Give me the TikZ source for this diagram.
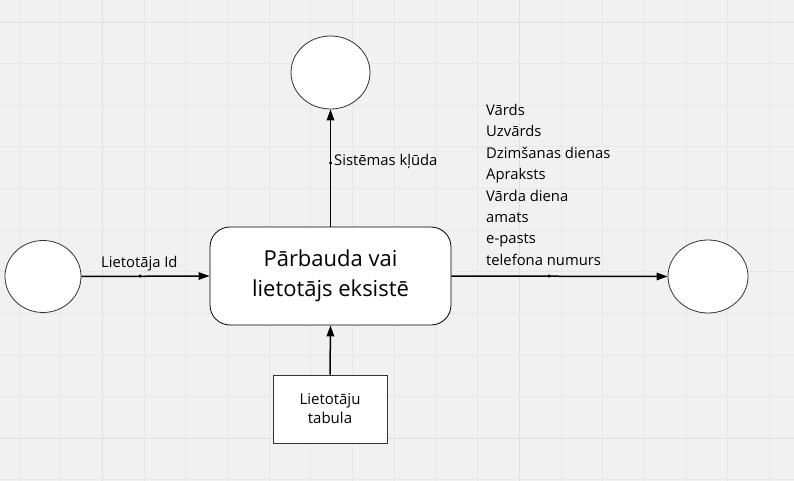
\documentclass[tikz,border=0pt]{standalone}
\usepackage{fontspec}
\setmainfont{Open Sans}
\usetikzlibrary{shapes.geometric,arrows.meta}
\definecolor{bg}{HTML}{F1F1F1}
\definecolor{gridminor}{HTML}{E7E7E7}
\definecolor{gridmajor}{HTML}{DEDEDE}
\definecolor{outline}{HTML}{333333}
\begin{document}
\begin{tikzpicture}[x=1pt,y=-1pt,
  term/.style={draw=outline, line width=0.8pt, fill=white, ellipse, inner sep=0pt},
  procbox/.style={draw=black, line width=0.8pt, fill=white, rounded corners=20pt, inner sep=0pt, minimum width=241pt, minimum height=98pt, align=center, font=\fontsize{22}{30}\selectfont},
  storebox/.style={draw=outline, line width=0.8pt, fill=white, inner sep=0pt, minimum width=114pt, minimum height=68pt, align=center, font=\fontsize{15}{19}\selectfont},
  flow/.style={line width=1.5pt, -{Triangle[length=11pt,width=7.5pt]}},
  lbl/.style={font=\fontsize{14.8}{21.4}\selectfont, inner sep=0pt},
  middot/.style={circle, fill=black, inner sep=0pt, minimum size=3.5pt}
]
\fill[bg] (0,0) rectangle (794,481);
\useasboundingbox (0,0) rectangle (794,481);
% grid
\foreach \i in {0,...,18} {
  \pgfmathsetmacro{\gx}{18.8+41.7*\i}
  \pgfmathtruncatemacro{\ismaj}{(\i==2 || \i==12) ? 1 : 0}
  \ifnum\ismaj=1
    \draw[gridmajor, line width=0.9pt] (\gx,0) -- (\gx,481);
  \else
    \draw[gridminor, line width=0.6pt] (\gx,0) -- (\gx,481);
  \fi
}
\foreach \j in {0,...,11} {
  \pgfmathsetmacro{\gy}{22+41.6*\j}
  \pgfmathtruncatemacro{\ismaj}{(\j==0 || \j==10) ? 1 : 0}
  \ifnum\ismaj=1
    \draw[gridmajor, line width=0.9pt] (0,\gy) -- (794,\gy);
  \else
    \draw[gridminor, line width=0.6pt] (0,\gy) -- (794,\gy);
  \fi
}
% nodes
\node[term, minimum width=76pt, minimum height=72pt] (src) at (43,276.5) {};
\node[term, minimum width=79pt, minimum height=73pt] (err) at (330.5,72.5) {};
\node[term, minimum width=80pt, minimum height=73pt] (out) at (708,276.5) {};
\node[procbox] (proc) at (330.5,276) {Pārbauda vai\\lietotājs eksistē};
\node[storebox] (tbl) at (330,409) {Lietotāju\\tabula};
% connectors
\draw[flow] (src.east) -- (proc.west);
\draw[flow] (proc.north) -- (err.south);
\draw[flow] (tbl.north) -- (proc.south);
\draw[flow] (proc.east) -- (out.west);
% midpoint dots and labels
\node[middot] (d1) at (140,276) {};
\node[middot] (d2) at (330.5,163) {};
\node[middot] (d3) at (549,276) {};
\node[lbl, anchor=base west] (l1) at (101,267) {Lietotāja Id};
\node[lbl, anchor=west] (l2) at (334,162) {Sistēmas kļūda};
\node[lbl, anchor=north west, align=left] (l3) at (486,104) {Vārds\\Uzvārds\\Dzimšanas dienas\\Apraksts\\Vārda diena\\amats\\e-pasts\\telefona numurs};
\end{tikzpicture}
\end{document}
